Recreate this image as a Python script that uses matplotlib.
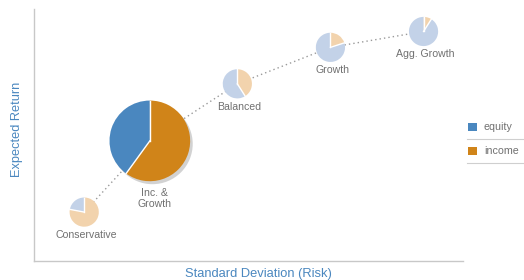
import numpy as np
import matplotlib
matplotlib.use("Agg")
import matplotlib.pyplot as plt
from matplotlib.patches import Wedge, Circle, Rectangle
from matplotlib.lines import Line2D

plt.rcParams['font.family'] = ['Liberation Sans', 'DejaVu Sans']

# datos (unidades arbitrarias, sin marcas en los ejes)
carteras = ["Conservative", "Inc. &\nGrowth", "Balanced", "Growth", "Agg. Growth"]
riesgo = [1.17, 2.70, 4.74, 6.91, 9.08]
retorno = [1.14, 2.80, 4.13, 4.98, 5.35]
equity = [22, 40, 59, 80, 91]
income = [78, 60, 41, 20, 9]
destacada = 1

COL_EQ, COL_INC = "#4a87bf", "#d08419"
COL_EQ_L, COL_INC_L = "#c3d2e8", "#f2d3ad"
COL_TXT = "#707070"
COL_AX = "#4a87bf"

W, H = 524, 280
fig = plt.figure(figsize=(W / 100, H / 100), dpi=100)

def px(x, y):
    return x / W, 1 - y / H

x0, y0 = px(34, 261)
x1, y1 = px(463, 9)
ax = fig.add_axes([x0, y0, x1 - x0, y1 - y0])
ax.set_xlim(0, 10)
ax.set_ylim(0, 10 * 252 / 429)
ax.set_aspect("equal")
ax.set_xticks([]); ax.set_yticks([])
for s in ["top", "right"]:
    ax.spines[s].set_visible(False)
for s in ["left", "bottom"]:
    ax.spines[s].set_color("#c8c8c8")
    ax.spines[s].set_linewidth(1.0)

# línea punteada que une las carteras
ax.plot(riesgo, retorno, color="#9a9a9a", lw=1.0, ls=(0, (1, 2.2)), zorder=1)

for i, nombre in enumerate(carteras):
    cx, cy = riesgo[i], retorno[i]
    if i == destacada:
        r = 0.94
        ce, ci = COL_EQ, COL_INC
        ax.add_patch(Circle((cx + 0.06, cy - 0.07), r, color="#b5b5b5", alpha=0.6, zorder=2, lw=0))
        dy, dx = -58, 5
    else:
        r = 0.34
        ce, ci = COL_EQ_L, COL_INC_L
        dy, dx = -23, 2
    frac_inc = income[i] / (income[i] + equity[i]) * 360
    # income en sentido horario desde las 12, equity el resto
    ax.add_patch(Wedge((cx, cy), r, 90 - frac_inc, 90, color=ci, zorder=3, lw=0))
    ax.add_patch(Wedge((cx, cy), r, 90, 90 - frac_inc + 360, color=ce, zorder=3, lw=0))
    for a in np.deg2rad([90, 90 - frac_inc]):
        ax.plot([cx, cx + r * np.cos(a)], [cy, cy + r * np.sin(a)], color="white", lw=1.0, zorder=4)
    ax.annotate(nombre, (cx, cy), textcoords="offset pixels", xytext=(dx, dy),
                ha="center", va="center", fontsize=7.6, color=COL_TXT,
                linespacing=1.1, annotation_clip=False)

fig.text(*px(17, 129), "Expected Return", rotation=90, ha="center", va="center",
         fontsize=9.2, color=COL_AX)
fig.text(*px(258, 274), "Standard Deviation (Risk)", ha="center", va="center",
         fontsize=9.3, color=COL_AX)

# leyenda a mano
for k, (txt, col) in enumerate([("equity", COL_EQ), ("income", COL_INC)]):
    yc = 127 + 24 * k
    rx, ry = px(468, yc + 4)
    fig.add_artist(Rectangle((rx, ry), 9 / W, 8 / H, transform=fig.transFigure,
                             color=col, lw=0))
    fig.text(*px(484, yc), txt, ha="left", va="center", fontsize=7.7, color=COL_TXT)
    lx0, ly = px(467, yc + 12)
    lx1, _ = px(524, yc + 12)
    fig.add_artist(Line2D([lx0, lx1], [ly, ly], transform=fig.transFigure,
                          color="#cfcfcf", lw=0.8))

fig.savefig("out.png", dpi=100)
